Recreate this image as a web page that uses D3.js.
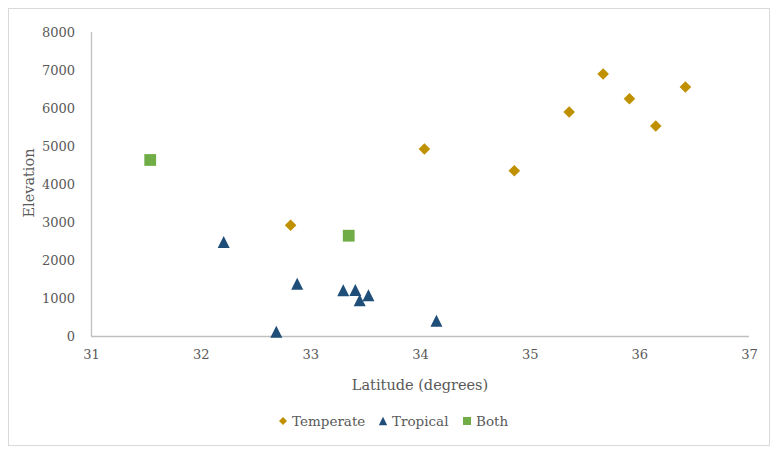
<!DOCTYPE html>
<html><head><meta charset="utf-8">
<script src="https://cdn.jsdelivr.net/npm/d3@7"></script>
<style>body{margin:0;background:#fff}svg text{font-family:"Palatino Linotype","Book Antiqua",Palatino,"DejaVu Serif",serif;fill:#595959}</style>
</head><body><svg id="c" width="779" height="454"></svg>
<script>
const temperateLat = [32.82, 34.04, 34.86, 35.36, 35.67, 35.91, 36.15, 36.42];
const temperateElev = [2913, 4921, 4350, 5895, 6895, 6245, 5526, 6553];
const tropicalLat = [32.21, 32.88, 33.30, 33.41, 33.45, 33.53, 32.69, 34.15];
const tropicalElev = [2474, 1376, 1203, 1210, 940, 1071, 113, 403];
const bothLat = [31.54, 33.35];
const bothElev = [4632, 2639];
const xTicks = [31, 32, 33, 34, 35, 36, 37];
const yTicks = [0, 1000, 2000, 3000, 4000, 5000, 6000, 7000, 8000];
const seriesNames = ["Temperate", "Tropical", "Both"];
const colors = ["#BF9000", "#1F4E79", "#70AD47"];

const svg = d3.select("#c");
svg.append("rect").attr("x",8.5).attr("y",8.5).attr("width",761).attr("height",437)
  .attr("fill","#fff").attr("stroke","#d9d9d9");
const x = d3.scaleLinear().domain([31,37]).range([91,749]);
const y = d3.scaleLinear().domain([0,8000]).range([336,32]);

const xAxis = svg.append("g").attr("transform","translate(0,336)")
  .call(d3.axisBottom(x).tickValues(xTicks).tickFormat(d3.format("d")).tickSize(0).tickPadding(14));
const yAxis = svg.append("g").attr("transform","translate(91,0)")
  .call(d3.axisLeft(y).tickValues(yTicks).tickFormat(d3.format("d")).tickSize(0).tickPadding(16));
[xAxis,yAxis].forEach(a=>{a.select(".domain").attr("stroke","#bfbfbf").attr("stroke-width",1.3);
  a.selectAll("text").style("font-size","13px").attr("fill","#595959");});
yAxis.select(".domain").attr("d","M0.5,336V32");
xAxis.select(".domain").attr("d","M91,0.5H749");

svg.append("text").attr("x",420).attr("y",390).attr("text-anchor","middle").style("font-size","14.5px").text("Latitude (degrees)");
svg.append("text").attr("transform","translate(34,183) rotate(-90)").attr("text-anchor","middle").style("font-size","14.5px").text("Elevation");

// marker shapes, centered in their bounding box (r = half width)
function marker(type, r){
  if(type===0) return `M0,${-r}L${r},0L0,${r}L${-r},0Z`;
  if(type===1) return `M0,${-r}L${r},${r}L${-r},${r}Z`;
  return `M${-r},${-r}H${r}V${r}H${-r}Z`;
}
const radii = [5.8, 6, 5.9];
const data = [[temperateLat,temperateElev],[tropicalLat,tropicalElev],[bothLat,bothElev]];
data.forEach((d,i)=>{
  const pts = d[0].map((v,j)=>[v,d[1][j]]);
  svg.append("g").selectAll("path").data(pts).join("path")
    .attr("transform",p=>`translate(${x(p[0])},${y(p[1])})`)
    .attr("d",marker(i,radii[i])).attr("fill",colors[i]);
});

const legX = [283, 383, 467];
seriesNames.forEach((n,i)=>{
  svg.append("path").attr("transform",`translate(${legX[i]},421)`)
    .attr("d",marker(i,[4,4.2,4][i])).attr("fill",colors[i]);
  svg.append("text").attr("x",legX[i]+9).attr("y",426).style("font-size","13.5px").text(n);
});
</script></body></html>
